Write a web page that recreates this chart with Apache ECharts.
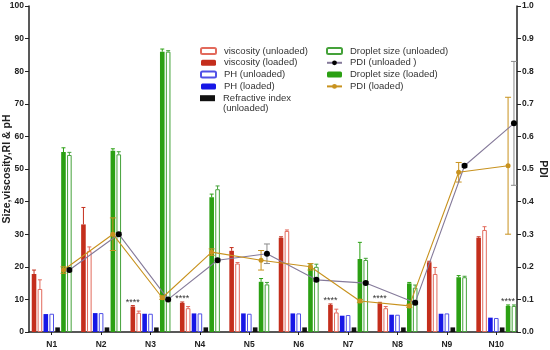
<!DOCTYPE html>
<html><head><meta charset="utf-8">
<script src="https://cdn.jsdelivr.net/npm/echarts@6/dist/echarts.min.js"></script>
<style>html,body{margin:0;padding:0;background:#fff}#c{width:550px;height:350px}</style>
</head><body><div id="c"></div>
<script>
const categories = ['N1','N2','N3','N4','N5','N6','N7','N8','N9','N10'];
const leftTicks = {min: 0, max: 100, interval: 10};
const rightTicks = {min: 0, max: 1, interval: 0.1};

const viscosityLoaded     = [17.8, 33.0, 7.8, 8.9, 24.9, 28.9, 8.3, 8.8, 21.4, 28.9];
const viscosityLoadedSD   = [1.2, 5.2, 0.3, 0.3, 1.0, 0.3, 0.3, 0.3, 0.3, 0.3];
const viscosityUnloaded   = [13.2, 24.8, 5.9, 7.3, 21.0, 31.0, 6.0, 7.3, 17.8, 31.3];
const viscosityUnloadedSD = [2.8, 1.3, 0.5, 0.5, 0.3, 0.3, 1.0, 0.5, 2.0, 1.0];
const phLoaded            = [5.5, 5.8, 5.6, 5.7, 5.7, 5.7, 5.0, 5.3, 5.6, 4.4];
const phUnloaded          = [5.6, 5.8, 5.6, 5.7, 5.6, 5.7, 5.2, 5.3, 5.7, 4.3];
const refractiveIndex     = [1.41, 1.41, 1.40, 1.42, 1.42, 1.41, 1.41, 1.40, 1.41, 1.40];
const dropletLoaded       = [55.2, 55.6, 86.0, 41.3, 15.4, 20.0, 22.4, 14.9, 16.8, 8.0];
const dropletLoadedSD     = [1.3, 0.6, 0.8, 1.0, 1.0, 0.6, 5.1, 0.3, 0.5, 0.3];
const dropletUnloaded     = [54.3, 54.5, 86.0, 43.8, 14.6, 20.0, 22.1, 13.6, 16.8, 8.0];
const dropletUnloadedSD   = [0.8, 0.8, 0.3, 1.0, 0.6, 0.8, 0.5, 0.8, 0.3, 0.3];
const pdiUnloaded         = [0.19, 0.30, 0.10, 0.22, 0.24, 0.16, 0.15, 0.09, 0.51, 0.64];
const pdiUnloadedSD       = [0.005, 0.005, 0.005, 0.005, 0.03, 0.005, 0.005, 0.005, 0.005, 0.19];
const pdiLoaded           = [0.19, 0.30, 0.105, 0.245, 0.22, 0.20, 0.095, 0.08, 0.49, 0.51];
const pdiLoadedSD         = [0.01, 0.05, 0.005, 0.01, 0.03, 0.01, 0.005, 0.005, 0.03, 0.21];
const viscositySig        = ['', '', '****', '****', '', '', '****', '****', '', ''];
const dropletSig          = ['', '', '', '', '', '', '', '', '', '****'];

// layout
const W = 550;
const G0 = {left: 27, right: 29, top: 6, bottom: 18};
const G1 = {left: 29, right: 33, top: 6, bottom: 18};
const CAT_W = (W - G0.left - G0.right) / categories.length;
const BAR_W = 4.6, GAP = 0.28;
const PITCH = BAR_W * (1 + GAP);
const offPx = k => (k - 3) * PITCH;
const offUnits = k => offPx(k) / CAT_W;

const C = {
  visL: '#c42e1c', visU: '#e26a5c', phL: '#1717e6', phU: '#5050e6', ri: '#111111',
  dropL: '#2ba013', dropU: '#45a23a', pdiU: '#857a9a', pdiUm: '#000000', pdiL: '#c8921e'
};

function barSeries(name, data, color, hollow, sig) {
  const s = {
    name, type: 'bar', xAxisIndex: 0, yAxisIndex: 0, data,
    barWidth: BAR_W, barGap: (GAP * 100) + '%', z: 3,
    itemStyle: hollow ? {color: '#ffffff', borderColor: color, borderWidth: 1} : {color}
  };
  if (sig) {
    s.label = {show: true, position: 'top', distance: 0, fontSize: 9, color: '#333',
      fontFamily: 'Liberation Sans, Arial', formatter: p => sig[p.dataIndex]};
  }
  return s;
}
function barErr(k, vals, sds, color) {
  return {
    type: 'custom', xAxisIndex: 0, yAxisIndex: 0, z: 4, silent: true,
    dimensions: ['x', 'y', 'sd'], encode: {x: 0, y: 1},
    data: vals.map((v, i) => [i, v, sds[i]]),
    renderItem: (params, api) => {
      const i = api.value(0), v = api.value(1), sd = api.value(2);
      const p0 = api.coord([i, v]), p1 = api.coord([i, v + sd]);
      const x = p0[0] + offPx(k), h = 2;
      return {type: 'group', children: [
        {type: 'line', shape: {x1: x, y1: p0[1], x2: x, y2: p1[1]}, style: {stroke: color, lineWidth: 1}},
        {type: 'line', shape: {x1: x - h, y1: p1[1], x2: x + h, y2: p1[1]}, style: {stroke: color, lineWidth: 1}}
      ]};
    }
  };
}
function pdiLine(name, vals, k, lineColor, markColor, size) {
  return {
    name, type: 'line', xAxisIndex: 1, yAxisIndex: 1, z: 10,
    data: vals.map((v, i) => [i + offUnits(k), v]),
    symbol: 'circle', symbolSize: size,
    lineStyle: {color: lineColor, width: 1.1},
    itemStyle: {color: markColor}
  };
}
function pdiErr(vals, sds, k, color) {
  return {
    type: 'custom', xAxisIndex: 1, yAxisIndex: 1, z: 9, silent: true,
    dimensions: ['x', 'y', 'sd'], encode: {x: 0, y: 1},
    data: vals.map((v, i) => [i + offUnits(k), v, sds[i]]),
    renderItem: (params, api) => {
      const x0 = api.value(0), v = api.value(1), sd = api.value(2);
      const pt = api.coord([x0, v + sd]), pb = api.coord([x0, v - sd]);
      const x = pt[0], h = 3;
      return {type: 'group', children: [
        {type: 'line', shape: {x1: x, y1: pt[1], x2: x, y2: pb[1]}, style: {stroke: color, lineWidth: 1}},
        {type: 'line', shape: {x1: x - h, y1: pt[1], x2: x + h, y2: pt[1]}, style: {stroke: color, lineWidth: 1}},
        {type: 'line', shape: {x1: x - h, y1: pb[1], x2: x + h, y2: pb[1]}, style: {stroke: color, lineWidth: 1}}
      ]};
    }
  };
}

const FONT = 'Liberation Sans, Arial, sans-serif';
const axisLbl = {fontSize: 8.5, fontWeight: 'bold', color: '#222', fontFamily: FONT};
const legendText = {fontSize: 9.5, color: '#333', fontFamily: FONT, lineHeight: 10, padding: [0, 0, 0, 3]};
const riName = 'Refractive index\n(unloaded)';
const ROW0 = 51, ROW = 11.8;

const option = {
  animation: false,
  backgroundColor: '#ffffff',
  grid: [
    Object.assign({containLabel: false, outerBoundsMode: 'none'}, G0),
    Object.assign({containLabel: false, outerBoundsMode: 'none'}, G1)
  ],
  xAxis: [
    {type: 'category', gridIndex: 0, data: categories,
     axisLine: {show: false},
     axisTick: {show: true, alignWithLabel: true, length: 3, lineStyle: {color: '#222', width: 1}},
     axisLabel: Object.assign({margin: 8, interval: 0}, axisLbl)},
    {type: 'value', gridIndex: 0, min: -0.5, max: categories.length - 0.5, show: false},
    {type: 'value', gridIndex: 1, min: 0, max: 1, position: 'bottom',
     axisLine: {show: true, onZero: false, lineStyle: {color: '#222', width: 1.5}},
     axisTick: {show: false}, axisLabel: {show: false}, splitLine: {show: false}}
  ],
  yAxis: [
    Object.assign({type: 'value', gridIndex: 0, show: false}, leftTicks),
    Object.assign({type: 'value', gridIndex: 0, show: false, position: 'right'}, rightTicks),
    Object.assign({type: 'value', gridIndex: 1, position: 'left',
     name: 'Size,viscosity,RI & pH', nameLocation: 'middle', nameGap: 16, nameMoveOverlap: false,
     nameTextStyle: {fontSize: 10.5, fontWeight: 'bold', color: '#222', fontFamily: FONT},
     axisLine: {show: true, lineStyle: {color: '#222', width: 1.5}},
     axisTick: {show: true, length: 4, lineStyle: {color: '#222', width: 1}},
     axisLabel: Object.assign({margin: 5}, axisLbl),
     splitLine: {show: false}}, leftTicks),
    Object.assign({type: 'value', gridIndex: 1, position: 'right',
     name: 'PDI', nameLocation: 'middle', nameGap: 20, nameRotate: -90, nameMoveOverlap: false,
     nameTextStyle: {fontSize: 10.5, fontWeight: 'bold', color: '#222', fontFamily: FONT},
     axisLine: {show: true, lineStyle: {color: '#222', width: 1.5}},
     axisTick: {show: true, length: 4, lineStyle: {color: '#222', width: 1}},
     axisLabel: Object.assign({margin: 5, formatter: v => v.toFixed(1)}, axisLbl),
     splitLine: {show: false}}, rightTicks)
  ],
  legend: [
    {orient: 'vertical', left: 200, top: ROW0 - 5, padding: 0, itemWidth: 15, itemHeight: 6, itemGap: ROW - 10,
     textStyle: legendText, selectedMode: false,
     data: ['viscosity (unloaded)', 'viscosity (loaded)', 'PH (unloaded)', 'PH (loaded)']},
    {orient: 'vertical', left: 200, top: ROW0 + 4 * ROW - 5, padding: 0, itemWidth: 15, itemHeight: 16,
     textStyle: legendText, selectedMode: false,
     data: [{name: riName, icon: 'path://M0,0H15V6H0Z M0,16L0,16'}]},
    {orient: 'vertical', left: 326, top: ROW0 - 5, padding: 0, itemWidth: 15, itemHeight: 6, itemGap: ROW - 10,
     textStyle: legendText, selectedMode: false,
     data: ['Droplet size (unloaded)', 'PDI (unloaded )', 'Droplet size (loaded)', 'PDI (loaded)']}
  ],
  series: [
    barSeries('viscosity (loaded)', viscosityLoaded, C.visL, false, viscositySig),
    barSeries('viscosity (unloaded)', viscosityUnloaded, C.visU, true),
    barSeries('PH (loaded)', phLoaded, C.phL, false),
    barSeries('PH (unloaded)', phUnloaded, C.phU, true),
    barSeries(riName, refractiveIndex, C.ri, false),
    barSeries('Droplet size (loaded)', dropletLoaded, C.dropL, false, dropletSig),
    barSeries('Droplet size (unloaded)', dropletUnloaded, C.dropU, true),
    barErr(0, viscosityLoaded, viscosityLoadedSD, C.visL),
    barErr(1, viscosityUnloaded, viscosityUnloadedSD, C.visU),
    barErr(5, dropletLoaded, dropletLoadedSD, C.dropL),
    barErr(6, dropletUnloaded, dropletUnloadedSD, C.dropU),
    pdiErr(pdiUnloaded, pdiUnloadedSD, 6, '#8a8a8a'),
    pdiErr(pdiLoaded, pdiLoadedSD, 5, C.pdiL),
    pdiLine('PDI (unloaded )', pdiUnloaded, 6, C.pdiU, C.pdiUm, 6),
    pdiLine('PDI (loaded)', pdiLoaded, 5, C.pdiL, C.pdiL, 5)
  ]
};
const chart = echarts.init(document.getElementById('c'), null, {renderer: 'canvas'});
chart.setOption(option);
</script>
</body></html>
